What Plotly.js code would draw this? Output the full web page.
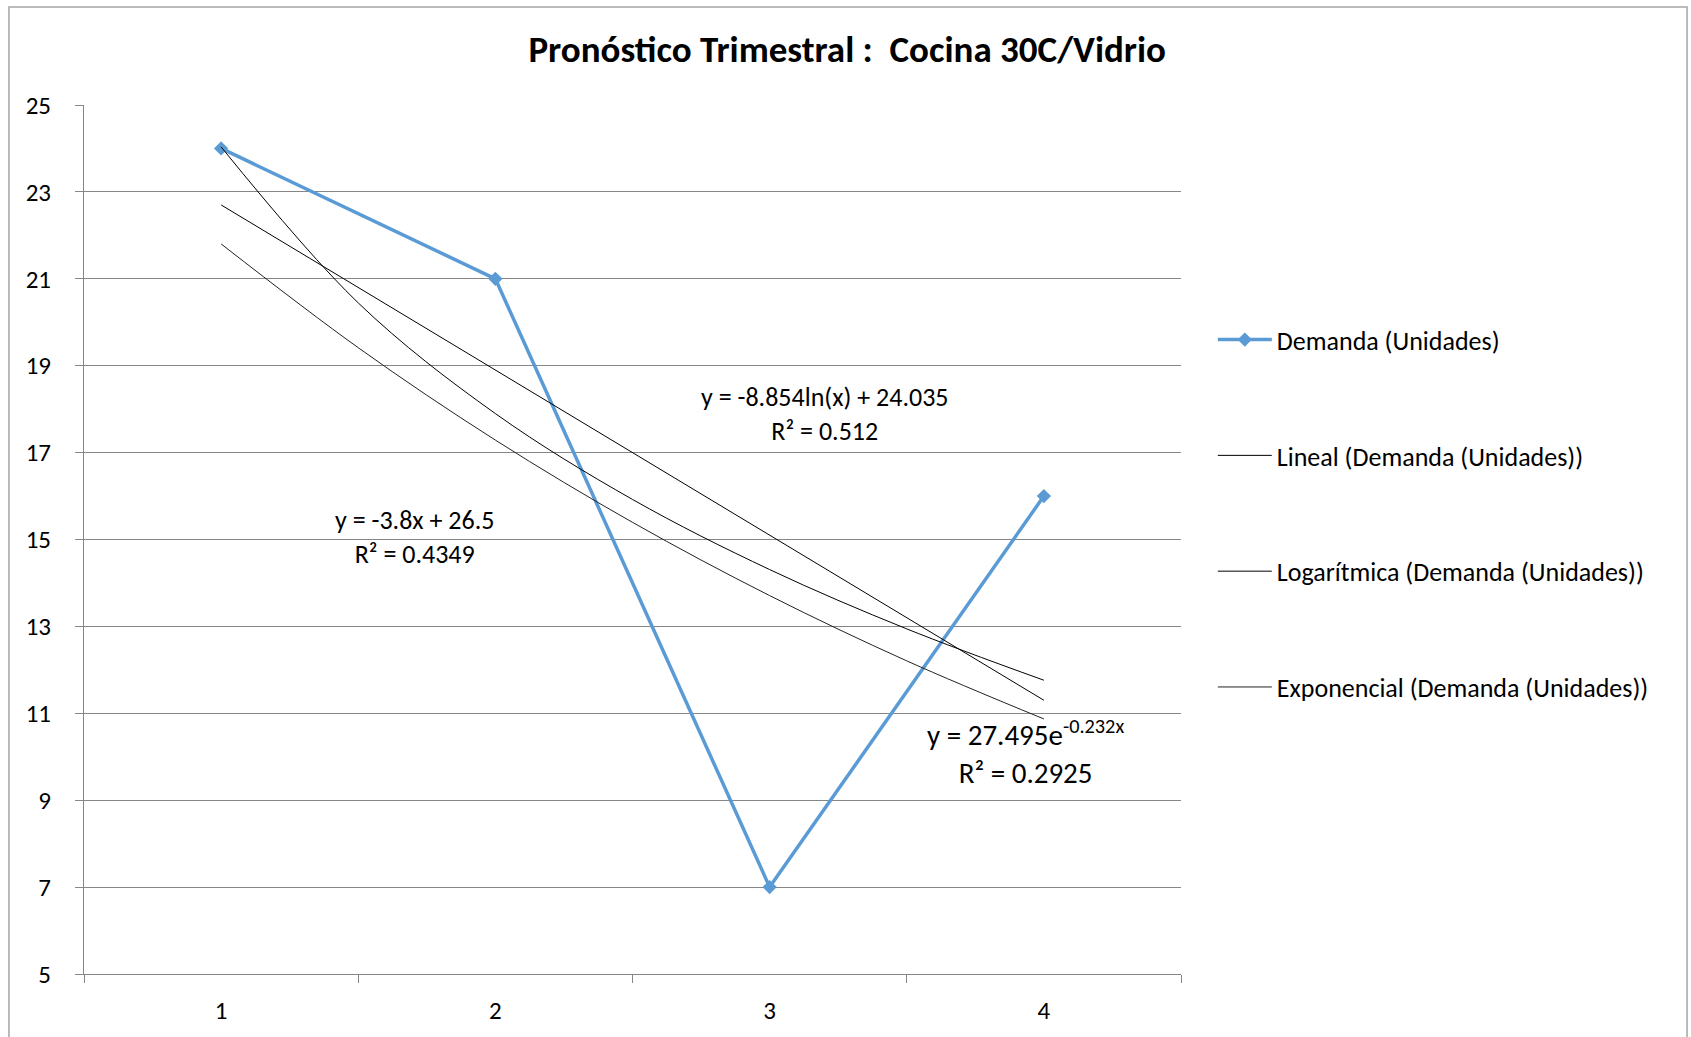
<!DOCTYPE html>
<html>
<head>
<meta charset="utf-8">
<script src="https://cdn.plot.ly/plotly-3.0.1.min.js"></script>
<style>
  html, body { margin: 0; padding: 0; background: #ffffff; }
  #chart { width: 1691px; height: 1037px; }
</style>
</head>
<body>
<div id="chart"></div>
<script>
// ---- Data ----
const quarters = [1, 2, 3, 4];
const quarterLabels = ["1", "2", "3", "4"];
const demanda = [24, 21, 7, 16];

// Trendline curves (values read along the drawn trendlines / their shown equations)
const trendX = [1, 1.5, 2, 2.5, 3, 3.5, 4];
const lineal = [22.7, 20.8, 18.9, 17.0, 15.1, 13.2, 11.3];
const logaritmica = [24.035, 20.445, 17.898, 15.922, 14.308, 12.943, 11.761];
const exponencial = [21.802, 19.414, 17.288, 15.395, 13.709, 12.207, 10.870];

const seriesNames = [
  "Demanda (Unidades)",
  "Lineal (Demanda (Unidades))",
  "Logarítmica (Demanda (Unidades))",
  "Exponencial (Demanda (Unidades))"
];
const yTicks = [5, 7, 9, 11, 13, 15, 17, 19, 21, 23, 25];
const categoryBounds = [0.5, 1.5, 2.5, 3.5, 4.5];

const eqLog = "y = -8.854ln(x) + 24.035<br>R² = 0.512";
const eqLin = "y = -3.8x + 26.5<br>R² = 0.4349";
const eqExp = "y = 27.495e<sup>-0.232x</sup><br>R² = 0.2925";
const titleText = "Pronóstico Trimestral :\u00a0 Cocina 30C/Vidrio";

// ---- Styling ----
const FONT = "Carlito, Lato, 'Liberation Sans', sans-serif";
const GRID = "#868686";
const BLUE = "#5B9BD5";

const traces = [
  {
    x: quarters, y: demanda, name: seriesNames[0], type: "scatter", mode: "lines+markers",
    line: { color: BLUE, width: 3.5 },
    marker: { symbol: "diamond", size: 11, color: BLUE },
    legendgroup: "a", hoverinfo: "x+y"
  },
  {
    x: trendX, y: lineal, name: seriesNames[1], type: "scatter", mode: "lines",
    line: { color: "#000000", width: 1 }, legendgroup: "b"
  },
  {
    x: trendX, y: logaritmica, name: seriesNames[2], type: "scatter", mode: "lines",
    line: { color: "#000000", width: 1, shape: "spline", smoothing: 1 }, legendgroup: "c"
  },
  {
    x: trendX, y: exponencial, name: seriesNames[3], type: "scatter", mode: "lines",
    line: { color: "#222222", width: 1, shape: "spline", smoothing: 1 }, legendgroup: "d"
  }
];

const layout = {
  width: 1691, height: 1037,
  margin: { l: 84, r: 510, t: 105, b: 63 },
  paper_bgcolor: "#ffffff", plot_bgcolor: "#ffffff",
  font: { family: FONT, color: "#000000", size: 22 },
  title: {
    text: titleText,
    font: { family: FONT, size: 37, color: "#000000", weight: "bold" },
    xref: "container", x: 0.501, xanchor: "center",
    yref: "container", y: 0.953, yanchor: "middle"
  },
  xaxis: {
    range: [0.5, 4.5],
    tickmode: "array", tickvals: quarters, ticktext: quarterLabels,
    ticks: "", ticklabelstandoff: 14,
    tickfont: { family: FONT, size: 25, color: "#000000" },
    showgrid: false, zeroline: false,
    showline: true, linecolor: GRID, linewidth: 1,
    minor: { tickmode: "array", tickvals: categoryBounds, ticks: "outside", ticklen: 8, tickcolor: GRID, tickwidth: 1, showgrid: false },
    fixedrange: true
  },
  yaxis: {
    range: [5, 25],
    tickmode: "array", tickvals: yTicks,
    ticks: "outside", ticklen: 8, tickcolor: GRID, tickwidth: 1,
    ticklabelstandoff: 19,
    tickfont: { family: FONT, size: 25, color: "#000000" },
    showgrid: true, gridcolor: GRID, gridwidth: 1,
    zeroline: false, showline: true, linecolor: GRID, linewidth: 1,
    fixedrange: true
  },
  showlegend: true,
  legend: {
    x: 1.029, xanchor: "left",
    y: 0.757, yanchor: "top",
    bgcolor: "rgba(0,0,0,0)",
    font: { family: FONT, size: 26, color: "#000000" },
    itemwidth: 54,
    tracegroupgap: 79,
    itemclick: false, itemdoubleclick: false
  },
  annotations: [
    { text: eqLog, xref: "paper", yref: "paper", x: 0.6755, y: 0.6445, xanchor: "center", yanchor: "middle",
      showarrow: false, align: "center", font: { family: FONT, size: 26, color: "#000000" } },
    { text: eqLin, xref: "paper", yref: "paper", x: 0.3017, y: 0.5025, xanchor: "center", yanchor: "middle",
      showarrow: false, align: "center", font: { family: FONT, size: 26, color: "#000000" } },
    { text: eqExp, xref: "paper", yref: "paper", x: 0.8587, y: 0.2545, xanchor: "center", yanchor: "middle",
      showarrow: false, align: "center", font: { family: FONT, size: 29, color: "#000000" } }
  ],
  shapes: [
    { type: "rect", xref: "paper", yref: "paper", x0: -0.0684, x1: 1.4613, y0: -0.12, y1: 1.1128,
      line: { color: "#a6a6a6", width: 1.5 }, fillcolor: "rgba(0,0,0,0)", layer: "below" }
  ]
};

Plotly.newPlot("chart", traces, layout, { displayModeBar: false, responsive: false, staticPlot: true });
</script>
</body>
</html>
